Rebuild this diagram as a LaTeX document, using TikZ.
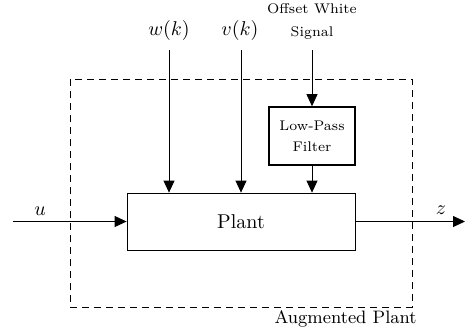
\documentclass[tikz,border=0pt]{standalone}
\usetikzlibrary{arrows.meta}
\begin{document}
\begin{tikzpicture}[x=0.5pt,y=-0.5pt,
  arr/.style={-{Triangle[length=6pt,width=5.5pt]}},
  blk/.style={draw, inner sep=0pt, align=center},
  lbl/.style={inner sep=0pt, align=center}]
\useasboundingbox (0,0) rectangle (465,329);
% augmented plant
\draw[dash pattern=on 3.5pt off 2.5pt] (70,79) rectangle (412,307);
\node[lbl, anchor=base east, font=\small] (aug) at (417,323) {Augmented Plant};
% blocks
\node[blk, minimum width=114pt, minimum height=28.5pt] (plant) at (241,221.5) {Plant};
\node[blk, line width=0.8pt, minimum width=43pt, minimum height=29pt, font=\scriptsize] (filt) at (312,136) {Low-Pass\\[2.5pt]Filter};
% labels
\node[lbl] (wk) at (169,30) {$w(k)$};
\node[lbl] (vk) at (240,30) {$v(k)$};
\node[lbl, font=\scriptsize] (sig) at (312,21) {Offset White\\[3.5pt]Signal};
\node[lbl] (ul) at (40,211) {$u$};
\node[lbl] (zl) at (441,210) {$z$};
% coordinates
\coordinate (wtop) at (169,50);
\coordinate (vtop) at (241,50);
\coordinate (stop) at (312,50);
\coordinate (uin) at (13,221.5);
\coordinate (zout) at (465,221.5);
% connectors
\draw[arr] (wtop) -- (wtop |- plant.north);
\draw[arr] (vtop) -- (vtop |- plant.north);
\draw[arr] (stop) -- (filt.north);
\draw[arr] (filt.south) -- (filt.south |- plant.north);
\draw[arr] (uin) -- (plant.west);
\draw[arr] (plant.east) -- (zout);
\end{tikzpicture}
\end{document}
